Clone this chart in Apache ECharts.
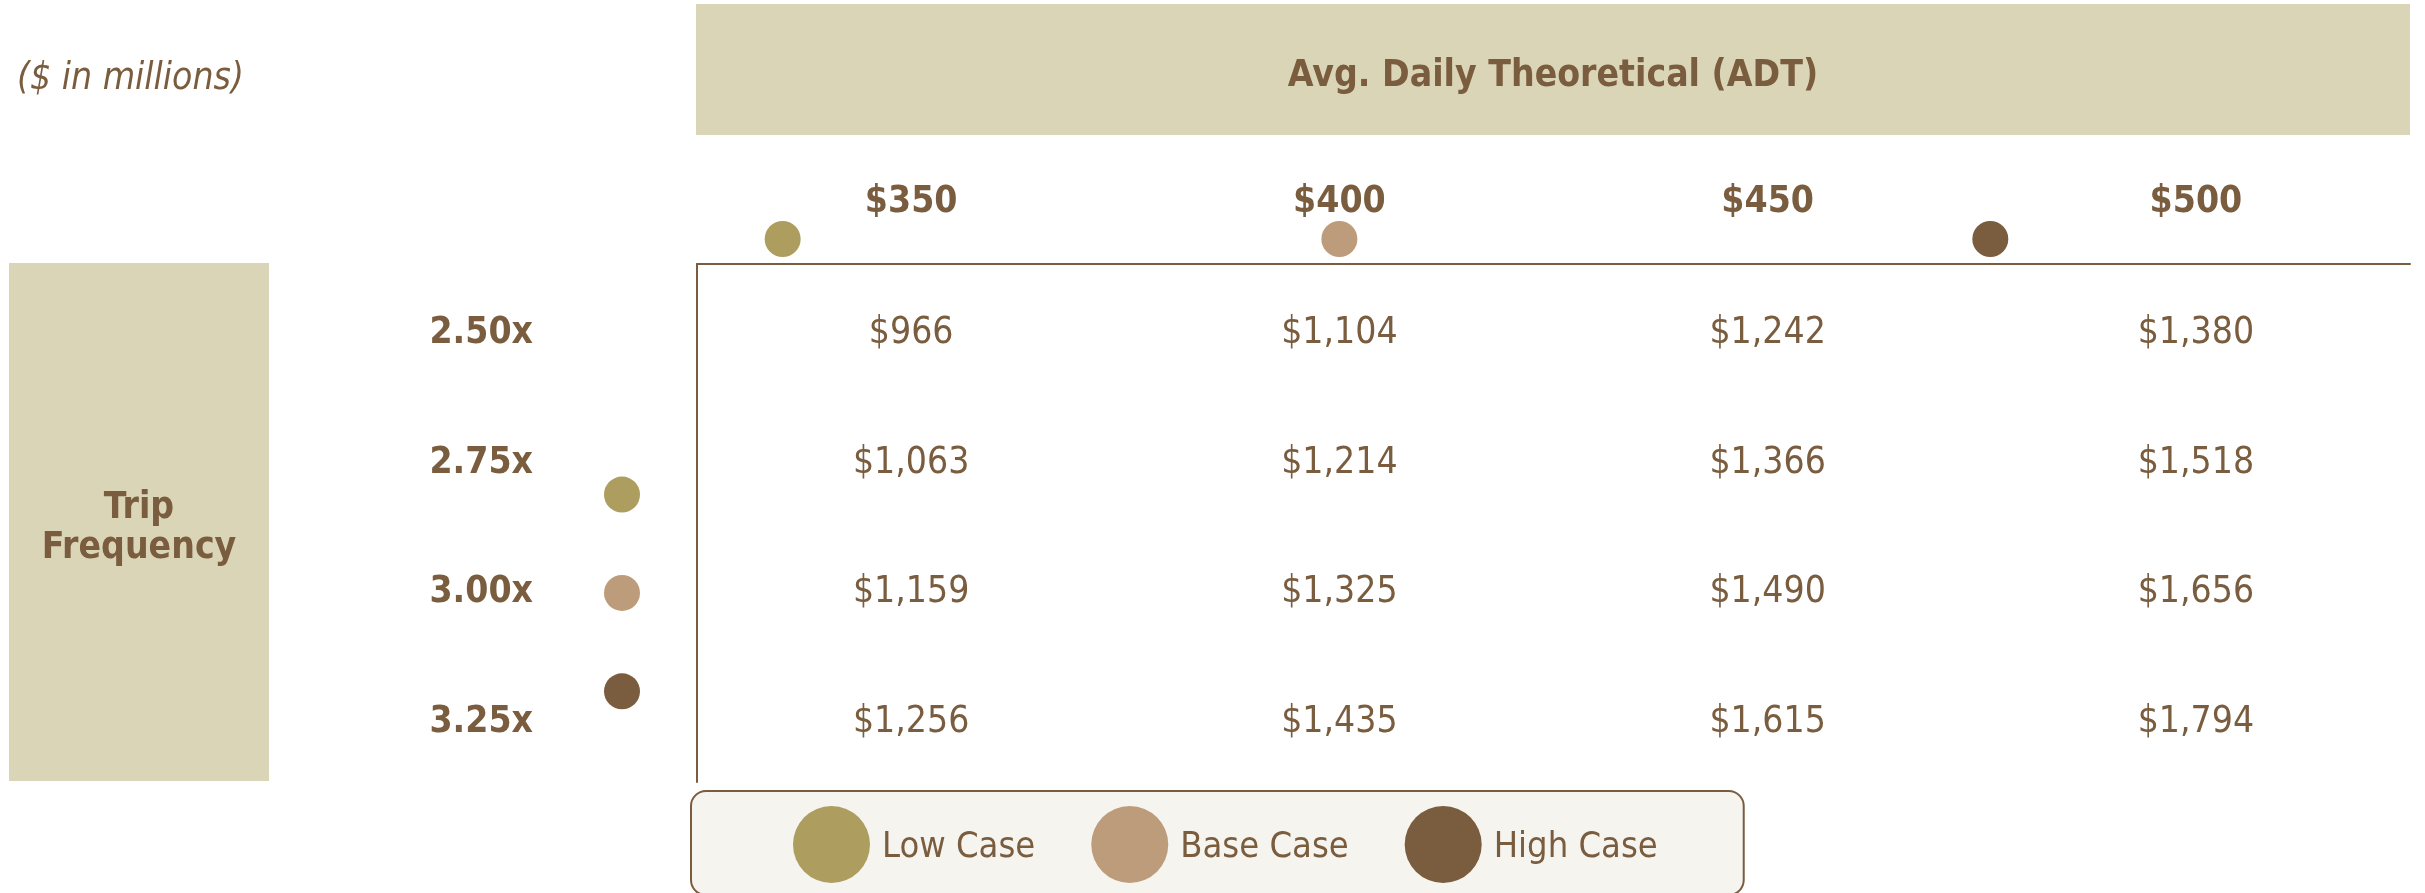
<!DOCTYPE html>
<html>
<head>
<meta charset="utf-8">
<title>ADT / Trip Frequency sensitivity</title>
<script src="https://cdn.jsdelivr.net/npm/echarts@6/dist/echarts.min.js"></script>
<style>
  html, body { margin: 0; padding: 0; background: #fff; }
  #chart { width: 2425px; height: 893px; }
</style>
</head>
<body>
<div id="chart"></div>
<script>
// ADT levels (columns) and trip frequency levels (rows)
const adtLevels = [350, 400, 450, 500];
const freqLevels = [2.5, 2.75, 3.0, 3.25];

// $ in millions, one row per trip frequency
const values = [
  [966, 1104, 1242, 1380],
  [1063, 1214, 1366, 1518],
  [1159, 1325, 1490, 1656],
  [1256, 1435, 1615, 1794]
];

// case markers
const caseNames = ['Low Case', 'Base Case', 'High Case'];
const caseAdt = [335, 400, 476];
const caseFreq = [2.82, 3.01, 3.20];
const caseColors = ['#ad9e60', '#bd9c7b', '#7a5c3e'];

const brown = '#7a5c3e';
const band = '#dbd5b8';
const font = "'DejaVu Sans Condensed', 'DejaVu Sans', sans-serif";
const fs = 37;

const cells = [];
freqLevels.forEach((f, r) => {
  adtLevels.forEach((a, c) => {
    cells.push([a, f, values[r][c]]);
  });
});

const chart = echarts.init(document.getElementById('chart'));

const series = [{
  type: 'scatter',
  xAxisIndex: 0,
  yAxisIndex: 0,
  symbolSize: 1,
  itemStyle: { color: 'transparent', opacity: 1 },
  label: {
    show: true,
    position: 'inside',
    color: brown,
    opacity: 1,
    fontFamily: font,
    fontSize: fs,
    formatter: p => '$' + p.value[2].toLocaleString('en-US')
  },
  data: cells
}];

caseNames.forEach((name, i) => {
  // dot above the ADT header
  series.push({
    name: name,
    type: 'scatter',
    xAxisIndex: 1,
    yAxisIndex: 1,
    symbolSize: 36,
    itemStyle: { color: caseColors[i], opacity: 1 },
    data: [[caseAdt[i], 0.5]]
  });
  // dot beside the trip frequency labels
  series.push({
    name: name,
    type: 'scatter',
    xAxisIndex: 2,
    yAxisIndex: 2,
    symbolSize: 36,
    itemStyle: { color: caseColors[i], opacity: 1 },
    data: [[0.5, caseFreq[i]]]
  });
});

const option = {
  animation: false,
  backgroundColor: '#fff',
  textStyle: { fontFamily: font },
  title: {
    text: '($ in millions)',
    left: 12,
    top: 54,
    textStyle: {
      color: brown,
      fontFamily: font,
      fontSize: fs,
      fontStyle: 'italic',
      fontWeight: 'normal',
      lineHeight: 40
    }
  },
  graphic: [
    {
      type: 'rect',
      shape: { x: 696, y: 4, width: 1714, height: 131 },
      style: { fill: band },
      silent: true,
      textContent: {
        style: {
          text: 'Avg. Daily Theoretical (ADT)',
          fill: brown,
          font: 'bold ' + fs + 'px ' + font
        }
      },
      textConfig: { position: 'inside', offset: [0, 7] }
    },
    {
      type: 'rect',
      shape: { x: 9, y: 263, width: 260, height: 518 },
      style: { fill: band },
      silent: true,
      textContent: {
        style: {
          text: 'Trip\nFrequency',
          fill: brown,
          align: 'center',
          lineHeight: 40,
          font: 'bold ' + fs + 'px ' + font
        }
      },
      textConfig: { position: 'inside', offset: [0, 6] }
    }
  ],
  legend: {
    data: caseNames,
    icon: 'circle',
    left: 691,
    top: 791,
    padding: [15, 86, 12, 102],
    itemWidth: 77,
    itemHeight: 77,
    itemGap: 56,
    backgroundColor: '#f6f4ef',
    borderColor: brown,
    borderWidth: 2,
    borderRadius: 15,
    selectedMode: false,
    formatter: name => '{t|' + name + '}',
    textStyle: {
      color: brown,
      fontFamily: font,
      fontSize: 36,
      rich: {
        t: {
          color: brown,
          fontFamily: font,
          fontSize: 36,
          padding: [6, 0, 0, 7]
        }
      }
    }
  },
  grid: [
    { left: 697, top: 264, width: 1713, height: 518 },
    { left: 697, top: 220, width: 1713, height: 38 },
    { left: 603, top: 264, width: 38, height: 518 }
  ],
  xAxis: [
    {
      gridIndex: 0,
      type: 'value',
      position: 'top',
      min: 325,
      max: 525,
      axisLine: { show: true, lineStyle: { color: brown, width: 2 } },
      axisTick: { show: false },
      splitLine: { show: false },
      axisLabel: {
        customValues: adtLevels,
        margin: 43,
        color: brown,
        fontFamily: font,
        fontSize: fs,
        fontWeight: 'bold',
        formatter: v => '$' + v
      }
    },
    { gridIndex: 1, type: 'value', min: 325, max: 525, show: false },
    { gridIndex: 2, type: 'value', min: 0, max: 1, show: false }
  ],
  yAxis: [
    {
      gridIndex: 0,
      type: 'value',
      inverse: true,
      min: 2.3655,
      max: 3.3655,
      axisLine: { show: true, lineStyle: { color: brown, width: 2 } },
      axisTick: { show: false },
      splitLine: { show: false },
      axisLabel: {
        customValues: freqLevels,
        margin: 164,
        color: brown,
        fontFamily: font,
        fontSize: fs,
        fontWeight: 'bold',
        formatter: v => v.toFixed(2) + 'x'
      }
    },
    { gridIndex: 1, type: 'value', min: 0, max: 1, show: false },
    { gridIndex: 2, type: 'value', inverse: true, min: 2.375, max: 3.375, show: false }
  ],
  series: series
};

chart.setOption(option);
</script>
</body>
</html>
